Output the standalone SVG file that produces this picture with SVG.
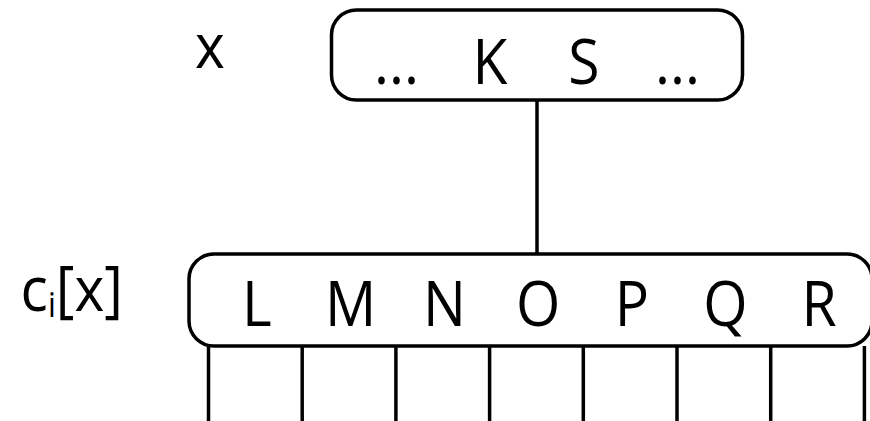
<svg xmlns="http://www.w3.org/2000/svg" width="870" height="421" viewBox="0 0 870 421">
<style>
text,tspan{font-family:"Open Sans","Noto Sans",sans-serif;font-size:62px;font-weight:400;fill:#000;text-anchor:middle}
.box{fill:#fff;stroke:#000;stroke-width:3.5}
.ln{stroke:#000;stroke-width:3.5;fill:none}
</style>
<rect width="870" height="421" fill="#fff"/>
<g id="connectors">
<line class="ln" x1="537" y1="100" x2="537" y2="254"/>
<line class="ln" x1="208.5" y1="346" x2="208.5" y2="421"/>
<line class="ln" x1="302.2" y1="346" x2="302.2" y2="421"/>
<line class="ln" x1="395.9" y1="346" x2="395.9" y2="421"/>
<line class="ln" x1="489.6" y1="346" x2="489.6" y2="421"/>
<line class="ln" x1="583.3" y1="346" x2="583.3" y2="421"/>
<line class="ln" x1="677" y1="346" x2="677" y2="421"/>
<line class="ln" x1="770.7" y1="346" x2="770.7" y2="421"/>
<line class="ln" x1="864.4" y1="346" x2="864.4" y2="421"/>
</g>
<g id="label-x"><text transform="translate(210 68) scale(0.92 1)">x</text></g>
<g id="node-x">
<rect class="box" x="331.5" y="10" width="411" height="90" rx="25"/>
<text transform="translate(396.5 84) scale(0.92 1)">...</text>
<text transform="translate(490 84) scale(0.92 1)">K</text>
<text transform="translate(584 84) scale(0.92 1)">S</text>
<text transform="translate(677.5 84) scale(0.92 1)">...</text>
</g>
<g id="label-ci"><text transform="translate(123 311) scale(0.92 1)" style="text-anchor:end">c<tspan style="font-size:34px;fill:#000" dy="6">i</tspan><tspan dy="-6">[x]</tspan></text></g>
<g id="node-ci">
<rect class="box" x="189" y="254" width="683" height="92" rx="25"/>
<text transform="translate(257 326) scale(0.92 1)">L</text>
<text transform="translate(350.7 326) scale(0.92 1)">M</text>
<text transform="translate(444.4 326) scale(0.92 1)">N</text>
<text transform="translate(538.1 326) scale(0.92 1)">O</text>
<text transform="translate(631.8 326) scale(0.92 1)">P</text>
<text transform="translate(725.5 326) scale(0.92 1)">Q</text>
<text transform="translate(819.2 326) scale(0.92 1)">R</text>
</g>
</svg>
